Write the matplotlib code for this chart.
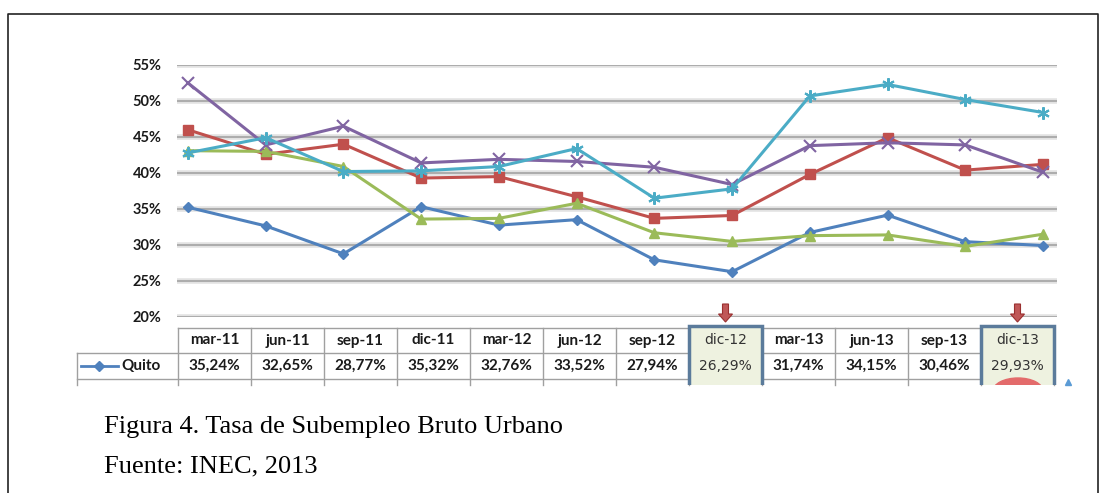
import numpy as np
import matplotlib
matplotlib.use("Agg")
import matplotlib.pyplot as plt
from matplotlib.patches import Rectangle, Ellipse, FancyArrow

# data (porcentajes)
periodos = ["mar-11", "jun-11", "sep-11", "dic-11", "mar-12", "jun-12",
            "sep-12", "dic-12", "mar-13", "jun-13", "sep-13", "dic-13"]
quito = [35.24, 32.65, 28.77, 35.32, 32.76, 33.52, 27.94, 26.29, 31.74, 34.15, 30.46, 29.93]
serie_roja = [46.0, 42.6, 44.0, 39.3, 39.5, 36.7, 33.7, 34.1, 39.8, 44.9, 40.4, 41.2]
serie_verde = [43.1, 43.0, 40.9, 33.6, 33.7, 35.8, 31.7, 30.5, 31.3, 31.4, 29.8, 31.5]
serie_morada = [52.5, 43.9, 46.5, 41.4, 41.9, 41.6, 40.8, 38.4, 43.8, 44.2, 43.9, 40.1]
serie_celeste = [42.8, 44.9, 40.2, 40.3, 40.9, 43.4, 36.5, 37.8, 50.7, 52.3, 50.2, 48.4]
yticks = [20, 25, 30, 35, 40, 45, 50, 55]
resaltados = ["dic-12", "dic-13"]

W, H = 1107, 493
fig = plt.figure(figsize=(W / 100, H / 100), dpi=100)
fig.patch.set_facecolor("white")

lab_font = dict(family="Lato", fontweight="bold", fontsize=10.5, color="#1a1a1a")
tab_font = dict(family="Lato", fontweight="bold", fontsize=11, color="#1a1a1a")

# chart area
ax = fig.add_axes([177 / W, 1 - 317 / H, 880 / W, 252 / H])
x = np.arange(len(periodos))
ax.plot(x, quito, color="#4f81bd", lw=2.2, marker="D", ms=5, zorder=3)
ax.plot(x, serie_roja, color="#c0504d", lw=2.2, marker="s", ms=7, zorder=3)
ax.plot(x, serie_verde, color="#9bbb59", lw=2.2, marker="^", ms=7, zorder=3)
ax.plot(x, serie_morada, color="#8064a2", lw=2.2, marker="x", ms=8, mew=1.5, zorder=3)
ax.plot(x, serie_celeste, color="#4bacc6", lw=2.2, marker=(6, 2, 0), ms=9, mew=1.5, zorder=4)

ax.set_xlim(-0.1415, 11.18)
ax.set_ylim(20, 55)
ax.set_yticks(yticks)
ax.set_yticklabels(["%d%%" % v for v in yticks], **lab_font)
ax.set_xticks([])
ax.tick_params(axis="y", length=0, pad=11)
for s in ax.spines.values():
    s.set_visible(False)
for v in yticks:
    ax.axhline(v, color="#e2e2e2", lw=4, zorder=0)
    ax.axhline(v, color="#a8a8a8", lw=1.3, zorder=1)

# overlay in pixel coordinates for table, caption and frame
ov = fig.add_axes([0, 0, 1, 1])
ov.set_xlim(0, W)
ov.set_ylim(H, 0)
ov.axis("off")
ov.patch.set_alpha(0)

edges = np.linspace(178, 1054, len(periodos) + 1)
grid_c = "#a0a0a0"
top, mid, bot, end = 328, 353, 379, 385
clip = Rectangle((0, 0), W, end, transform=ov.transData)

ov.plot([edges[0], edges[-1]], [top, top], color=grid_c, lw=1)
ov.plot([77, edges[-1]], [mid, mid], color=grid_c, lw=1)
ov.plot([77, edges[-1]], [bot, bot], color=grid_c, lw=1)
ov.plot([77, 77], [mid, end], color=grid_c, lw=1)
for e in edges:
    ov.plot([e, e], [top, end], color=grid_c, lw=1)

for i, p in enumerate(periodos):
    cx = (edges[i] + edges[i + 1]) / 2
    if p in resaltados:
        box = Rectangle((edges[i], top - 2), edges[i + 1] - edges[i], end - top + 20,
                        facecolor="#eef2e0", edgecolor="#5b7b9b", lw=2.5, zorder=2)
        ov.add_patch(box)
        box.set_clip_path(clip)
        ov.add_patch(FancyArrow(cx, 304, 0, 18, width=6, head_width=14, head_length=8,
                                length_includes_head=True, facecolor="#c05858",
                                edgecolor="#9a3030", lw=0.8, zorder=3))
        f = dict(family="DejaVu Sans", fontsize=10, color="#333333")
    else:
        f = tab_font
    ov.text(cx, (top + mid) / 2, p, ha="center", va="center", zorder=4, **f)
    ov.text(cx, (mid + bot) / 2, ("%.2f%%" % quito[i]).replace(".", ","),
            ha="center", va="center", zorder=4, **f)

# legend key in the table row
ov.plot([81, 118], [366, 366], color="#4f81bd", lw=2)
ov.plot([99], [366], marker="D", ms=5, color="#4f81bd")
ov.text(121, 366, "Quito", ha="left", va="center", **tab_font)

# marks at the bottom of the table (image cut below)
el = Ellipse((1018, 391), 50, 26, color="#e36b6b", zorder=3)
ov.add_patch(el)
el.set_clip_path(clip)
ov.plot([1068], [382], marker="^", ms=5, color="#5b9bd5")

# caption
cap = dict(family="Liberation Serif", fontsize=19, color="black", ha="left", va="center")
ov.text(104, 427, "Figura 4. Tasa de Subempleo Bruto Urbano", **cap)
ov.text(104, 466, "Fuente: INEC, 2013", **cap)

# frame
ov.plot([8, 8, 1098, 1098], [H + 5, 14, 14, H + 5], color="#222222", lw=1.2)

fig.savefig("out.png", dpi=100)
